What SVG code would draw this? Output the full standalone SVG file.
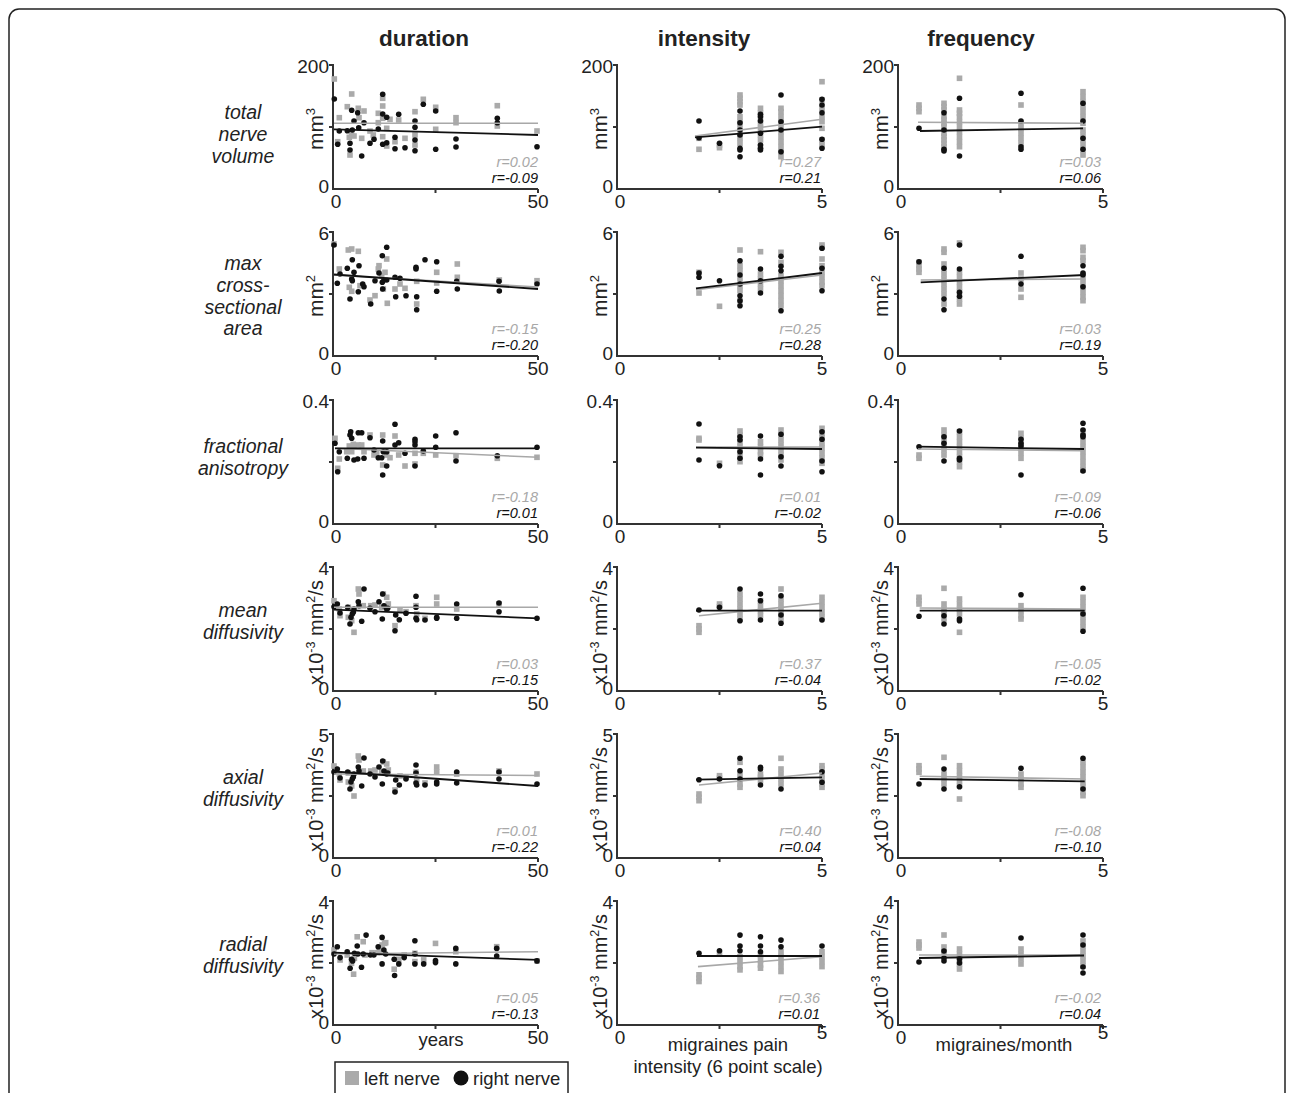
<svg xmlns="http://www.w3.org/2000/svg" xmlns:xlink="http://www.w3.org/1999/xlink" width="1292" height="1093" viewBox="0 0 1292 1093">
<style>
text{font-family:'Liberation Sans',Arial,Helvetica,sans-serif}
.ax{fill:none;stroke:#333;stroke-width:2}
.gl{stroke:#a8a8a8;stroke-width:1.6}
.bl{stroke:#111;stroke-width:1.8}
.te{font-size:19px;fill:#222;text-anchor:end}
.tm{font-size:19px;fill:#222;text-anchor:middle}
.rg{font-size:14.5px;font-style:italic;fill:#a8a8a8;text-anchor:end}
.rb{font-size:14.5px;font-style:italic;fill:#111;text-anchor:end}
.yl{font-size:21px;fill:#222;text-anchor:middle}
.yx{font-size:20px;fill:#222;text-anchor:middle}
.hd{font-size:22.5px;font-weight:bold;fill:#222;text-anchor:middle}
.rl{font-size:19.5px;font-style:italic;fill:#222;text-anchor:middle}
.xl{font-size:18.5px;fill:#222;text-anchor:middle}
.lg{font-size:18.5px;fill:#222}
</style>
<defs>
<rect id="s" x="-2.8" y="-2.8" width="5.6" height="5.6" fill="#aaaaaa"/>
<circle id="d" r="2.8" fill="#111"/>
<path id="ax" class="ax" d="M-4,0H0V124H205M-4,62H0M102.5,124V128M205,124V128"/>
</defs>
<rect id="frame" x="9" y="9" width="1276" height="1120" rx="10" fill="none" stroke="#222" stroke-width="1.5"/>

<g id="headers">
<text class="hd" x="424" y="46">duration</text>
<text class="hd" x="704" y="46">intensity</text>
<text class="hd" x="981" y="46">frequency</text>
</g>

<g id="rowlabels">
<text class="rl" x="243" y="119">total</text><text class="rl" x="243" y="141">nerve</text><text class="rl" x="243" y="163">volume</text>
<text class="rl" x="243" y="270">max</text><text class="rl" x="243" y="292">cross-</text><text class="rl" x="243" y="313.5">sectional</text><text class="rl" x="243" y="335">area</text>
<text class="rl" x="243" y="453">fractional</text><text class="rl" x="243" y="475">anisotropy</text>
<text class="rl" x="243" y="617">mean</text><text class="rl" x="243" y="639">diffusivity</text>
<text class="rl" x="243" y="784">axial</text><text class="rl" x="243" y="806">diffusivity</text>
<text class="rl" x="243" y="951">radial</text><text class="rl" x="243" y="973">diffusivity</text>
</g>

<!-- Row 1 -->
<g id="r1c1" transform="translate(333,65)">
<use href="#ax"/>
<text class="te" x="-4" y="8">200</text><text class="te" x="-4" y="128">0</text><text class="tm" x="3" y="143">0</text><text class="tm" x="205" y="143">50</text>
<text class="yl" transform="translate(-10,64) rotate(-90)">mm<tspan dy="-8" font-size="13">3</tspan></text>
<g class="lp">
<use href="#s" x="1.3" y="14"/><use href="#s" x="6.3" y="52.7"/><use href="#s" x="4.7" y="76.7"/><use href="#s" x="14.3" y="41.7"/><use href="#s" x="18.7" y="29"/><use href="#s" x="16.3" y="72.3"/><use href="#s" x="18.7" y="70"/><use href="#s" x="17" y="90"/><use href="#s" x="21" y="71"/><use href="#s" x="25.3" y="43.3"/><use href="#s" x="26" y="52.7"/><use href="#s" x="28.7" y="73.3"/><use href="#s" x="31" y="46"/><use href="#s" x="37" y="66"/><use href="#s" x="40.3" y="70"/><use href="#s" x="45.3" y="48.3"/><use href="#s" x="49.7" y="33.3"/><use href="#s" x="49.7" y="41"/><use href="#s" x="49.7" y="53.3"/><use href="#s" x="49.7" y="71.7"/><use href="#s" x="53.7" y="81"/><use href="#s" x="57" y="54.3"/><use href="#s" x="62" y="76.7"/><use href="#s" x="65.7" y="55"/><use href="#s" x="72" y="73.3"/><use href="#s" x="82" y="46.7"/><use href="#s" x="82" y="70"/><use href="#s" x="82" y="80"/><use href="#s" x="90.3" y="34.3"/><use href="#s" x="102.7" y="42.3"/><use href="#s" x="102.7" y="64.3"/><use href="#s" x="123" y="52.7"/><use href="#s" x="123" y="57.7"/><use href="#s" x="164.3" y="40.7"/><use href="#s" x="164.3" y="61"/><use href="#s" x="204" y="66"/><use href="#s" x="45.3" y="57.7"/><use href="#s" x="53.7" y="63.3"/>
</g>
<g class="rp">
<use href="#d" x="1.3" y="34"/><use href="#d" x="4.7" y="79.3"/><use href="#d" x="6.3" y="66"/><use href="#d" x="14.3" y="65.7"/><use href="#d" x="17" y="78.3"/><use href="#d" x="17" y="85"/><use href="#d" x="18.7" y="45.3"/><use href="#d" x="19.3" y="65"/><use href="#d" x="21" y="56"/><use href="#d" x="24.7" y="47.7"/><use href="#d" x="25.7" y="62.7"/><use href="#d" x="28.7" y="91"/><use href="#d" x="31" y="57.7"/><use href="#d" x="37" y="78.3"/><use href="#d" x="41" y="74.3"/><use href="#d" x="45.3" y="64"/><use href="#d" x="49.7" y="29.3"/><use href="#d" x="49.7" y="49"/><use href="#d" x="49.7" y="79.3"/><use href="#d" x="53.7" y="52.3"/><use href="#d" x="53.7" y="77.7"/><use href="#d" x="62" y="72.3"/><use href="#d" x="62" y="83.7"/><use href="#d" x="65.7" y="49.3"/><use href="#d" x="72" y="82.7"/><use href="#d" x="82" y="56"/><use href="#d" x="82" y="62.3"/><use href="#d" x="82" y="75"/><use href="#d" x="82" y="85.7"/><use href="#d" x="90.3" y="39.3"/><use href="#d" x="102.7" y="46"/><use href="#d" x="102.7" y="84.3"/><use href="#d" x="123" y="74"/><use href="#d" x="123" y="82"/><use href="#d" x="164.3" y="53.3"/><use href="#d" x="164.3" y="57.7"/><use href="#d" x="204" y="81.7"/>
</g>
<line class="gl" x1="1" y1="58.3" x2="205" y2="58.3"/><line class="bl" x1="1" y1="64.3" x2="205" y2="70"/>
<text class="rg" x="205" y="101.5">r=0.02</text><text class="rb" x="205" y="118">r=-0.09</text>
</g>

<g id="r1c2" transform="translate(617,65)">
<use href="#ax"/>
<text class="te" x="-4" y="8">200</text><text class="te" x="-4" y="128">0</text><text class="tm" x="3" y="143">0</text><text class="tm" x="205" y="143">5</text>
<text class="yl" transform="translate(-10,64) rotate(-90)">mm<tspan dy="-8" font-size="13">3</tspan></text>
<g class="lp">
<use href="#s" x="82" y="73.3"/><use href="#s" x="82" y="84.3"/><use href="#s" x="102.5" y="80"/><use href="#s" x="102.5" y="82.7"/>
<use href="#s" x="123" y="30"/><use href="#s" x="123" y="33.3"/><use href="#s" x="123" y="36.7"/><use href="#s" x="123" y="40"/><use href="#s" x="123" y="51.7"/><use href="#s" x="123" y="56.7"/><use href="#s" x="123" y="61.7"/><use href="#s" x="123" y="68.3"/><use href="#s" x="123" y="73.3"/><use href="#s" x="123" y="78.3"/>
<use href="#s" x="143.5" y="43.3"/><use href="#s" x="143.5" y="48.3"/><use href="#s" x="143.5" y="53.3"/><use href="#s" x="143.5" y="58.3"/><use href="#s" x="143.5" y="63.3"/><use href="#s" x="143.5" y="70"/><use href="#s" x="143.5" y="75"/><use href="#s" x="143.5" y="81.7"/>
<use href="#s" x="164" y="43.3"/><use href="#s" x="164" y="46.7"/><use href="#s" x="164" y="51.7"/><use href="#s" x="164" y="56.7"/><use href="#s" x="164" y="61.7"/><use href="#s" x="164" y="66.7"/><use href="#s" x="164" y="71.7"/><use href="#s" x="164" y="76.7"/><use href="#s" x="164" y="81.7"/><use href="#s" x="164" y="86.7"/><use href="#s" x="164" y="91.7"/>
<use href="#s" x="205" y="16.7"/><use href="#s" x="205" y="35"/><use href="#s" x="205" y="43.3"/><use href="#s" x="205" y="51.7"/><use href="#s" x="205" y="56.7"/><use href="#s" x="205" y="63.3"/><use href="#s" x="205" y="75"/><use href="#s" x="205" y="80"/>
</g>
<g class="rp">
<use href="#d" x="82" y="56"/><use href="#d" x="82" y="72.7"/><use href="#d" x="102.5" y="78.3"/>
<use href="#d" x="123" y="46"/><use href="#d" x="123" y="57.7"/><use href="#d" x="123" y="65"/><use href="#d" x="123" y="70"/><use href="#d" x="123" y="83.3"/><use href="#d" x="123" y="85"/><use href="#d" x="123" y="91.7"/>
<use href="#d" x="143.5" y="49.3"/><use href="#d" x="143.5" y="51.7"/><use href="#d" x="143.5" y="56"/><use href="#d" x="143.5" y="68.3"/><use href="#d" x="143.5" y="80"/><use href="#d" x="143.5" y="83.3"/><use href="#d" x="143.5" y="85"/>
<use href="#d" x="164" y="30"/><use href="#d" x="164" y="56.7"/><use href="#d" x="164" y="65"/><use href="#d" x="164" y="86.7"/>
<use href="#d" x="205" y="34.3"/><use href="#d" x="205" y="40"/><use href="#d" x="205" y="47.7"/><use href="#d" x="205" y="74.3"/><use href="#d" x="205" y="83.3"/>
</g>
<line class="gl" x1="78" y1="71" x2="205" y2="54.3"/><line class="bl" x1="78" y1="72.3" x2="205" y2="61.7"/>
<text class="rg" x="204" y="101.5">r=0.27</text><text class="rb" x="204" y="118">r=0.21</text>
</g>

<g id="r1c3" transform="translate(898,65)">
<use href="#ax"/>
<text class="te" x="-4" y="8">200</text><text class="te" x="-4" y="128">0</text><text class="tm" x="3" y="143">0</text><text class="tm" x="205" y="143">5</text>
<text class="yl" transform="translate(-10,64) rotate(-90)">mm<tspan dy="-8" font-size="13">3</tspan></text>
<g class="lp">
<use href="#s" x="21" y="40"/><use href="#s" x="21" y="43.3"/><use href="#s" x="21" y="46.7"/>
<use href="#s" x="46" y="38.3"/><use href="#s" x="46" y="41.7"/><use href="#s" x="46" y="45"/><use href="#s" x="46" y="51.7"/><use href="#s" x="46" y="55"/><use href="#s" x="46" y="58.3"/><use href="#s" x="46" y="61.7"/><use href="#s" x="46" y="68.3"/><use href="#s" x="46" y="71.7"/><use href="#s" x="46" y="75"/><use href="#s" x="46" y="78.3"/><use href="#s" x="46" y="81.7"/>
<use href="#s" x="61.5" y="13.3"/><use href="#s" x="61.5" y="45"/><use href="#s" x="61.5" y="48.3"/><use href="#s" x="61.5" y="51.7"/><use href="#s" x="61.5" y="56.7"/><use href="#s" x="61.5" y="61.7"/><use href="#s" x="61.5" y="66.7"/><use href="#s" x="61.5" y="71.7"/><use href="#s" x="61.5" y="76.7"/><use href="#s" x="61.5" y="81.7"/>
<use href="#s" x="123" y="40"/><use href="#s" x="123" y="58.3"/><use href="#s" x="123" y="63.3"/><use href="#s" x="123" y="68.3"/><use href="#s" x="123" y="73.3"/><use href="#s" x="123" y="78.3"/>
<use href="#s" x="185" y="26.7"/><use href="#s" x="185" y="31.7"/><use href="#s" x="185" y="36.7"/><use href="#s" x="185" y="41.7"/><use href="#s" x="185" y="46.7"/><use href="#s" x="185" y="51.7"/><use href="#s" x="185" y="58.3"/><use href="#s" x="185" y="65"/><use href="#s" x="185" y="70"/><use href="#s" x="185" y="75"/><use href="#s" x="185" y="80"/><use href="#s" x="185" y="85"/><use href="#s" x="185" y="90"/>
</g>
<g class="rp">
<use href="#d" x="21" y="63.3"/><use href="#d" x="46" y="47.7"/><use href="#d" x="46" y="65"/><use href="#d" x="46" y="84.3"/><use href="#d" x="46" y="86"/><use href="#d" x="61.5" y="33.3"/><use href="#d" x="61.5" y="91"/><use href="#d" x="123" y="28.3"/><use href="#d" x="123" y="56"/><use href="#d" x="123" y="81.7"/><use href="#d" x="123" y="84.3"/><use href="#d" x="185" y="38.3"/><use href="#d" x="185" y="56"/><use href="#d" x="185" y="73.3"/><use href="#d" x="185" y="84.3"/>
</g>
<line class="gl" x1="20" y1="57.3" x2="185" y2="58.3"/><line class="bl" x1="22" y1="66" x2="185" y2="63.3"/>
<text class="rg" x="203" y="101.5">r=0.03</text><text class="rb" x="203" y="118">r=0.06</text>
</g>

<!-- Row 2 -->
<g id="r2c1" transform="translate(333,232)">
<use href="#ax"/>
<text class="te" x="-4" y="8">6</text><text class="te" x="-4" y="128">0</text><text class="tm" x="3" y="143">0</text><text class="tm" x="205" y="143">50</text>
<text class="yl" transform="translate(-10,64) rotate(-90)">mm<tspan dy="-8" font-size="13">2</tspan></text>
<g class="lp">
<use href="#s" x="1" y="12"/><use href="#s" x="6.3" y="37"/><use href="#s" x="15.3" y="18"/><use href="#s" x="18.7" y="17"/><use href="#s" x="25.3" y="19.3"/><use href="#s" x="16.3" y="55.3"/><use href="#s" x="18.7" y="59.3"/><use href="#s" x="27" y="53.7"/><use href="#s" x="37" y="68"/><use href="#s" x="42" y="63.7"/><use href="#s" x="46" y="33.7"/><use href="#s" x="48.7" y="43.7"/><use href="#s" x="50.3" y="57"/><use href="#s" x="53.7" y="27"/><use href="#s" x="54.3" y="71.3"/><use href="#s" x="62" y="57"/><use href="#s" x="67" y="52"/><use href="#s" x="72" y="56.3"/><use href="#s" x="83.7" y="49.3"/><use href="#s" x="83.7" y="72"/><use href="#s" x="103.7" y="40.3"/><use href="#s" x="103.7" y="51"/><use href="#s" x="124.3" y="32"/><use href="#s" x="124.3" y="45.3"/><use href="#s" x="166.3" y="48"/><use href="#s" x="204" y="48.7"/><use href="#s" x="45.3" y="37"/><use href="#s" x="52" y="40.3"/>
</g>
<g class="rp">
<use href="#d" x="1" y="13"/><use href="#d" x="4.3" y="51.3"/><use href="#d" x="7" y="42"/><use href="#d" x="14.3" y="36.3"/><use href="#d" x="17" y="67"/><use href="#d" x="18.7" y="47"/><use href="#d" x="19.3" y="27.7"/><use href="#d" x="19.3" y="48.7"/><use href="#d" x="21" y="40.3"/><use href="#d" x="25.3" y="59.7"/><use href="#d" x="26" y="33.7"/><use href="#d" x="29.7" y="52"/><use href="#d" x="31" y="54.7"/><use href="#d" x="37.7" y="72"/><use href="#d" x="42" y="48.7"/><use href="#d" x="46" y="41"/><use href="#d" x="49.3" y="23.7"/><use href="#d" x="49.3" y="50.3"/><use href="#d" x="49.7" y="57"/><use href="#d" x="51" y="47.7"/><use href="#d" x="53.7" y="15.3"/><use href="#d" x="53.7" y="48"/><use href="#d" x="62" y="45.3"/><use href="#d" x="62.7" y="64.7"/><use href="#d" x="67" y="46.3"/><use href="#d" x="73" y="63.7"/><use href="#d" x="83" y="35.3"/><use href="#d" x="83" y="37"/><use href="#d" x="83.7" y="64.7"/><use href="#d" x="83.7" y="77.7"/><use href="#d" x="92" y="27.7"/><use href="#d" x="103.7" y="29.7"/><use href="#d" x="103.7" y="59.3"/><use href="#d" x="123.7" y="49.3"/><use href="#d" x="124.3" y="57"/><use href="#d" x="166" y="49.3"/><use href="#d" x="166.3" y="59"/><use href="#d" x="204" y="52"/>
</g>
<line class="gl" x1="1" y1="43" x2="205" y2="55"/><line class="bl" x1="1" y1="42.5" x2="205" y2="57"/>
<text class="rg" x="205" y="101.5">r=-0.15</text><text class="rb" x="205" y="118">r=-0.20</text>
</g>

<g id="r2c2" transform="translate(617,232)">
<use href="#ax"/>
<text class="te" x="-4" y="8">6</text><text class="te" x="-4" y="128">0</text><text class="tm" x="3" y="143">0</text><text class="tm" x="205" y="143">5</text>
<text class="yl" transform="translate(-10,64) rotate(-90)">mm<tspan dy="-8" font-size="13">2</tspan></text>
<g class="lp">
<use href="#s" x="82" y="40.3"/><use href="#s" x="82" y="61"/><use href="#s" x="102.5" y="74.3"/>
<use href="#s" x="123" y="18"/><use href="#s" x="123" y="33.7"/><use href="#s" x="123" y="38.7"/><use href="#s" x="123" y="47"/><use href="#s" x="123" y="53.7"/><use href="#s" x="123" y="58.7"/><use href="#s" x="123" y="68.7"/>
<use href="#s" x="143.5" y="19.7"/><use href="#s" x="143.5" y="42"/><use href="#s" x="143.5" y="47"/><use href="#s" x="143.5" y="52"/><use href="#s" x="143.5" y="57"/>
<use href="#s" x="164" y="20.3"/><use href="#s" x="164" y="30.3"/><use href="#s" x="164" y="43.7"/><use href="#s" x="164" y="48.7"/><use href="#s" x="164" y="53.7"/><use href="#s" x="164" y="58.7"/><use href="#s" x="164" y="63.7"/><use href="#s" x="164" y="68.7"/><use href="#s" x="164" y="73.7"/>
<use href="#s" x="205" y="13"/><use href="#s" x="205" y="15.3"/><use href="#s" x="205" y="27"/><use href="#s" x="205" y="33.7"/><use href="#s" x="205" y="40.3"/><use href="#s" x="205" y="45.3"/><use href="#s" x="205" y="50.3"/><use href="#s" x="205" y="53.7"/>
</g>
<g class="rp">
<use href="#d" x="82" y="41"/><use href="#d" x="82" y="45.3"/><use href="#d" x="102.5" y="48.7"/>
<use href="#d" x="123" y="28.7"/><use href="#d" x="123" y="43"/><use href="#d" x="123" y="52"/><use href="#d" x="123" y="63.7"/><use href="#d" x="123" y="68.7"/><use href="#d" x="123" y="73.7"/>
<use href="#d" x="143.5" y="37"/><use href="#d" x="143.5" y="48.7"/><use href="#d" x="143.5" y="61"/>
<use href="#d" x="164" y="24.3"/><use href="#d" x="164" y="34.3"/><use href="#d" x="164" y="38.7"/><use href="#d" x="164" y="78.7"/>
<use href="#d" x="205" y="16.3"/><use href="#d" x="205" y="36.3"/><use href="#d" x="205" y="58.7"/>
</g>
<line class="gl" x1="79" y1="57.7" x2="205" y2="43"/><line class="bl" x1="79" y1="56.3" x2="205" y2="41"/>
<text class="rg" x="204" y="101.5">r=0.25</text><text class="rb" x="204" y="118">r=0.28</text>
</g>

<g id="r2c3" transform="translate(898,232)">
<use href="#ax"/>
<text class="te" x="-4" y="8">6</text><text class="te" x="-4" y="128">0</text><text class="tm" x="3" y="143">0</text><text class="tm" x="205" y="143">5</text>
<text class="yl" transform="translate(-10,64) rotate(-90)">mm<tspan dy="-8" font-size="13">2</tspan></text>
<g class="lp">
<use href="#s" x="21" y="30.3"/><use href="#s" x="21" y="33.7"/><use href="#s" x="21" y="37"/><use href="#s" x="21" y="40.3"/>
<use href="#s" x="46" y="17"/><use href="#s" x="46" y="20.3"/><use href="#s" x="46" y="32"/><use href="#s" x="46" y="37"/><use href="#s" x="46" y="42"/><use href="#s" x="46" y="47"/><use href="#s" x="46" y="52"/><use href="#s" x="46" y="57"/><use href="#s" x="46" y="62"/><use href="#s" x="46" y="72"/>
<use href="#s" x="61.5" y="11"/><use href="#s" x="61.5" y="40.3"/><use href="#s" x="61.5" y="45.3"/><use href="#s" x="61.5" y="50.3"/><use href="#s" x="61.5" y="55.3"/><use href="#s" x="61.5" y="60.3"/><use href="#s" x="61.5" y="67"/><use href="#s" x="61.5" y="72"/>
<use href="#s" x="123" y="41"/><use href="#s" x="123" y="47"/><use href="#s" x="123" y="57"/><use href="#s" x="123" y="65.3"/>
<use href="#s" x="185" y="15.3"/><use href="#s" x="185" y="18.7"/><use href="#s" x="185" y="25.3"/><use href="#s" x="185" y="28.7"/><use href="#s" x="185" y="45.3"/><use href="#s" x="185" y="50.3"/><use href="#s" x="185" y="55.3"/><use href="#s" x="185" y="60.3"/><use href="#s" x="185" y="65.3"/><use href="#s" x="185" y="68.7"/>
</g>
<g class="rp">
<use href="#d" x="21" y="29.7"/><use href="#d" x="46" y="36.3"/><use href="#d" x="46" y="67"/><use href="#d" x="46" y="77.7"/><use href="#d" x="61.5" y="13"/><use href="#d" x="61.5" y="37"/><use href="#d" x="61.5" y="60.3"/><use href="#d" x="61.5" y="64.3"/><use href="#d" x="123" y="24.3"/><use href="#d" x="123" y="52"/><use href="#d" x="185" y="33.7"/><use href="#d" x="185" y="41"/><use href="#d" x="185" y="42.7"/><use href="#d" x="185" y="54.7"/>
</g>
<line class="gl" x1="22.7" y1="48" x2="186.7" y2="47"/><line class="bl" x1="22.7" y1="50.3" x2="186.7" y2="43"/>
<text class="rg" x="203" y="101.5">r=0.03</text><text class="rb" x="203" y="118">r=0.19</text>
</g>

<!-- Row 3 -->
<g id="r3c1" transform="translate(333,400)">
<use href="#ax"/>
<text class="te" x="-4" y="8">0.4</text><text class="te" x="-4" y="128">0</text><text class="tm" x="3" y="143">0</text><text class="tm" x="205" y="143">50</text>
<g class="lp">
<use href="#s" x="2" y="38.3"/><use href="#s" x="6.3" y="59"/><use href="#s" x="4.7" y="68.3"/><use href="#s" x="16.3" y="46"/><use href="#s" x="18.7" y="51.7"/><use href="#s" x="21" y="46"/><use href="#s" x="25.3" y="45"/><use href="#s" x="28.7" y="45"/><use href="#s" x="31" y="51.7"/><use href="#s" x="37" y="35"/><use href="#s" x="41" y="55"/><use href="#s" x="49.7" y="35"/><use href="#s" x="49.7" y="65"/><use href="#s" x="53.7" y="55"/><use href="#s" x="62" y="36"/><use href="#s" x="65.7" y="55"/><use href="#s" x="72" y="66"/><use href="#s" x="82" y="53.3"/><use href="#s" x="82" y="64"/><use href="#s" x="90.3" y="53.3"/><use href="#s" x="102.7" y="55"/><use href="#s" x="123" y="55.7"/><use href="#s" x="164.3" y="58.3"/><use href="#s" x="204" y="57.3"/><use href="#s" x="43.7" y="53.3"/><use href="#s" x="57" y="57.7"/><use href="#s" x="13.7" y="51.7"/><use href="#s" x="20.3" y="44.3"/>
</g>
<g class="rp">
<use href="#d" x="2" y="43.3"/><use href="#d" x="4.7" y="71.7"/><use href="#d" x="6.3" y="51.7"/><use href="#d" x="14.3" y="58.3"/><use href="#d" x="17" y="35"/><use href="#d" x="17.7" y="31.7"/><use href="#d" x="18.7" y="38.3"/><use href="#d" x="21" y="60"/><use href="#d" x="24.7" y="59"/><use href="#d" x="25.3" y="32.7"/><use href="#d" x="28.7" y="32.7"/><use href="#d" x="31" y="58.3"/><use href="#d" x="37" y="37.7"/><use href="#d" x="41" y="50"/><use href="#d" x="45.3" y="57.7"/><use href="#d" x="48.7" y="57.7"/><use href="#d" x="49.7" y="75"/><use href="#d" x="49.7" y="41"/><use href="#d" x="50.3" y="51.7"/><use href="#d" x="53.7" y="51.7"/><use href="#d" x="53.7" y="66"/><use href="#d" x="62" y="24.3"/><use href="#d" x="62" y="45"/><use href="#d" x="65.7" y="42.7"/><use href="#d" x="72" y="53.3"/><use href="#d" x="82" y="39.3"/><use href="#d" x="82" y="41.7"/><use href="#d" x="82" y="45"/><use href="#d" x="82" y="66"/><use href="#d" x="90.3" y="51"/><use href="#d" x="102.7" y="36"/><use href="#d" x="102.7" y="47.3"/><use href="#d" x="123" y="32.7"/><use href="#d" x="123" y="61"/><use href="#d" x="164.3" y="55.7"/><use href="#d" x="204" y="47.3"/>
</g>
<line class="gl" x1="2" y1="48.3" x2="205" y2="57.3"/><line class="bl" x1="2" y1="48.3" x2="205" y2="48.3"/>
<text class="rg" x="205" y="101.5">r=-0.18</text><text class="rb" x="205" y="118">r=0.01</text>
</g>

<g id="r3c2" transform="translate(617,400)">
<use href="#ax"/>
<text class="te" x="-4" y="8">0.4</text><text class="te" x="-4" y="128">0</text><text class="tm" x="3" y="143">0</text><text class="tm" x="205" y="143">5</text>
<g class="lp">
<use href="#s" x="82" y="38.3"/><use href="#s" x="82" y="40"/><use href="#s" x="102.5" y="63.3"/>
<use href="#s" x="123" y="31"/><use href="#s" x="123" y="35"/><use href="#s" x="123" y="41.7"/><use href="#s" x="123" y="46.7"/><use href="#s" x="123" y="51.7"/><use href="#s" x="123" y="56.7"/><use href="#s" x="123" y="61.7"/>
<use href="#s" x="143.5" y="41.7"/><use href="#s" x="143.5" y="46.7"/><use href="#s" x="143.5" y="51.7"/><use href="#s" x="143.5" y="55"/>
<use href="#s" x="164" y="30"/><use href="#s" x="164" y="35"/><use href="#s" x="164" y="40"/><use href="#s" x="164" y="45"/><use href="#s" x="164" y="50"/><use href="#s" x="164" y="55"/><use href="#s" x="164" y="60"/>
<use href="#s" x="205" y="28.3"/><use href="#s" x="205" y="33.3"/><use href="#s" x="205" y="38.3"/><use href="#s" x="205" y="43.3"/><use href="#s" x="205" y="48.3"/><use href="#s" x="205" y="53.3"/><use href="#s" x="205" y="58.3"/><use href="#s" x="205" y="63.3"/>
</g>
<g class="rp">
<use href="#d" x="82" y="24"/><use href="#d" x="82" y="60"/><use href="#d" x="102.5" y="65.7"/>
<use href="#d" x="123" y="36.7"/><use href="#d" x="123" y="40"/><use href="#d" x="123" y="51.7"/><use href="#d" x="123" y="58.3"/>
<use href="#d" x="143.5" y="36"/><use href="#d" x="143.5" y="59"/><use href="#d" x="143.5" y="75"/>
<use href="#d" x="164" y="34.3"/><use href="#d" x="164" y="56.7"/><use href="#d" x="164" y="66"/>
<use href="#d" x="205" y="31.7"/><use href="#d" x="205" y="39.3"/><use href="#d" x="205" y="61"/><use href="#d" x="205" y="71.7"/>
</g>
<line class="gl" x1="79" y1="47" x2="205" y2="47"/><line class="bl" x1="79" y1="47.7" x2="205" y2="49"/>
<text class="rg" x="204" y="101.5">r=0.01</text><text class="rb" x="204" y="118">r=-0.02</text>
</g>

<g id="r3c3" transform="translate(898,400)">
<use href="#ax"/>
<text class="te" x="-4" y="8">0.4</text><text class="te" x="-4" y="128">0</text><text class="tm" x="3" y="143">0</text><text class="tm" x="205" y="143">5</text>
<g class="lp">
<use href="#s" x="21" y="55"/><use href="#s" x="21" y="58.3"/>
<use href="#s" x="46" y="30"/><use href="#s" x="46" y="35"/><use href="#s" x="46" y="40"/><use href="#s" x="46" y="45"/><use href="#s" x="46" y="50"/><use href="#s" x="46" y="55"/>
<use href="#s" x="61.5" y="31.7"/><use href="#s" x="61.5" y="36.7"/><use href="#s" x="61.5" y="41.7"/><use href="#s" x="61.5" y="46.7"/><use href="#s" x="61.5" y="51.7"/><use href="#s" x="61.5" y="56.7"/><use href="#s" x="61.5" y="61.7"/><use href="#s" x="61.5" y="66.7"/>
<use href="#s" x="123" y="33.3"/><use href="#s" x="123" y="38.3"/><use href="#s" x="123" y="43.3"/><use href="#s" x="123" y="48.3"/><use href="#s" x="123" y="53.3"/><use href="#s" x="123" y="58.3"/>
<use href="#s" x="185" y="31.7"/><use href="#s" x="185" y="36.7"/><use href="#s" x="185" y="41.7"/><use href="#s" x="185" y="46.7"/><use href="#s" x="185" y="51.7"/><use href="#s" x="185" y="56.7"/><use href="#s" x="185" y="61.7"/><use href="#s" x="185" y="66.7"/><use href="#s" x="185" y="70"/>
</g>
<g class="rp">
<use href="#d" x="21" y="46.7"/><use href="#d" x="46" y="36.7"/><use href="#d" x="46" y="43.3"/><use href="#d" x="46" y="61"/><use href="#d" x="61.5" y="31"/><use href="#d" x="61.5" y="58.3"/><use href="#d" x="61.5" y="60"/><use href="#d" x="123" y="39.3"/><use href="#d" x="123" y="43.3"/><use href="#d" x="123" y="46"/><use href="#d" x="123" y="75"/><use href="#d" x="185" y="23.3"/><use href="#d" x="185" y="30"/><use href="#d" x="185" y="35"/><use href="#d" x="185" y="36.7"/><use href="#d" x="185" y="71"/>
</g>
<line class="gl" x1="20" y1="49" x2="186" y2="50.7"/><line class="bl" x1="20" y1="46.7" x2="186" y2="49"/>
<text class="rg" x="203" y="101.5">r=-0.09</text><text class="rb" x="203" y="118">r=-0.06</text>
</g>

<!-- Row 4 -->
<g id="r4c1" transform="translate(333,567)">
<use href="#ax"/>
<text class="te" x="-4" y="8">4</text><text class="te" x="-4" y="128">0</text><text class="tm" x="3" y="143">0</text><text class="tm" x="205" y="143">50</text>
<text class="yx" transform="translate(-10,65.5) rotate(-90)">x10<tspan dy="-8" font-size="12.5">-3</tspan><tspan dy="8"> mm</tspan><tspan dy="-8" font-size="12.5">2</tspan><tspan dy="8">/s</tspan></text>
<g class="lp">
<use href="#s" x="1" y="33.7"/><use href="#s" x="6.3" y="42"/><use href="#s" x="15.3" y="50.3"/><use href="#s" x="18.7" y="53.7"/><use href="#s" x="21" y="65.3"/><use href="#s" x="25.3" y="22"/><use href="#s" x="26" y="27"/><use href="#s" x="30.3" y="38.7"/><use href="#s" x="37.7" y="38.7"/><use href="#s" x="42" y="38"/><use href="#s" x="48.7" y="40.3"/><use href="#s" x="50.3" y="27"/><use href="#s" x="53.7" y="30.3"/><use href="#s" x="55.3" y="37"/><use href="#s" x="62" y="58.7"/><use href="#s" x="67" y="43.7"/><use href="#s" x="73" y="44.7"/><use href="#s" x="83" y="38.7"/><use href="#s" x="83.7" y="47"/><use href="#s" x="92" y="51.3"/><use href="#s" x="103.7" y="30.3"/><use href="#s" x="103.7" y="37"/><use href="#s" x="123.7" y="42"/><use href="#s" x="166" y="37"/><use href="#s" x="7" y="48.7"/><use href="#s" x="15.3" y="40.3"/>
</g>
<g class="rp">
<use href="#d" x="1" y="39.7"/><use href="#d" x="4.3" y="37"/><use href="#d" x="7" y="46"/><use href="#d" x="14.7" y="40.3"/><use href="#d" x="17" y="57"/><use href="#d" x="18" y="50.3"/><use href="#d" x="19.3" y="47"/><use href="#d" x="20.3" y="45.3"/><use href="#d" x="21" y="42"/><use href="#d" x="25.3" y="34.7"/><use href="#d" x="26" y="38.7"/><use href="#d" x="28.7" y="54.3"/><use href="#d" x="31" y="22"/><use href="#d" x="37" y="41.3"/><use href="#d" x="42" y="44.7"/><use href="#d" x="46" y="34.7"/><use href="#d" x="49.3" y="52"/><use href="#d" x="49.7" y="27"/><use href="#d" x="51" y="38.7"/><use href="#d" x="53.7" y="42"/><use href="#d" x="54.7" y="41.3"/><use href="#d" x="62" y="63.7"/><use href="#d" x="62.7" y="48"/><use href="#d" x="66.3" y="52.7"/><use href="#d" x="73" y="46.3"/><use href="#d" x="83" y="29.3"/><use href="#d" x="83" y="40.3"/><use href="#d" x="83" y="51.3"/><use href="#d" x="83.7" y="52.7"/><use href="#d" x="92" y="53"/><use href="#d" x="103.7" y="50.3"/><use href="#d" x="103.7" y="51.3"/><use href="#d" x="123.7" y="37"/><use href="#d" x="123.7" y="51.3"/><use href="#d" x="166" y="36"/><use href="#d" x="166" y="44.7"/><use href="#d" x="204" y="51.3"/>
</g>
<line class="gl" x1="1" y1="40.3" x2="205" y2="40.3"/><line class="bl" x1="1" y1="42.7" x2="205" y2="51.3"/>
<text class="rg" x="205" y="101.5">r=0.03</text><text class="rb" x="205" y="118">r=-0.15</text>
</g>

<g id="r4c2" transform="translate(617,567)">
<use href="#ax"/>
<text class="te" x="-4" y="8">4</text><text class="te" x="-4" y="128">0</text><text class="tm" x="3" y="143">0</text><text class="tm" x="205" y="143">5</text>
<text class="yx" transform="translate(-10,65.5) rotate(-90)">x10<tspan dy="-8" font-size="12.5">-3</tspan><tspan dy="8"> mm</tspan><tspan dy="-8" font-size="12.5">2</tspan><tspan dy="8">/s</tspan></text>
<g class="lp">
<use href="#s" x="82" y="58.7"/><use href="#s" x="82" y="62"/><use href="#s" x="82" y="65.3"/><use href="#s" x="102.5" y="37"/><use href="#s" x="102.5" y="39.7"/>
<use href="#s" x="123" y="27"/><use href="#s" x="123" y="32"/><use href="#s" x="123" y="37"/><use href="#s" x="123" y="42"/><use href="#s" x="123" y="47"/><use href="#s" x="123" y="52"/>
<use href="#s" x="143.5" y="33.7"/><use href="#s" x="143.5" y="38.7"/><use href="#s" x="143.5" y="43.7"/><use href="#s" x="143.5" y="48.7"/>
<use href="#s" x="164" y="22"/><use href="#s" x="164" y="32"/><use href="#s" x="164" y="37"/><use href="#s" x="164" y="42"/><use href="#s" x="164" y="47"/><use href="#s" x="164" y="52"/>
<use href="#s" x="205" y="30.3"/><use href="#s" x="205" y="35.3"/><use href="#s" x="205" y="40.3"/><use href="#s" x="205" y="45.3"/><use href="#s" x="205" y="50.3"/>
</g>
<g class="rp">
<use href="#d" x="82" y="43"/><use href="#d" x="102.5" y="40.3"/><use href="#d" x="123" y="22"/><use href="#d" x="123" y="53.7"/><use href="#d" x="143.5" y="27"/><use href="#d" x="143.5" y="33.7"/><use href="#d" x="143.5" y="53"/><use href="#d" x="164" y="28.7"/><use href="#d" x="164" y="48"/><use href="#d" x="164" y="56.3"/><use href="#d" x="205" y="53"/>
</g>
<line class="gl" x1="82" y1="48.7" x2="205" y2="36.3"/><line class="bl" x1="79" y1="43.7" x2="205" y2="43.7"/>
<text class="rg" x="204" y="101.5">r=0.37</text><text class="rb" x="204" y="118">r=-0.04</text>
</g>

<g id="r4c3" transform="translate(898,567)">
<use href="#ax"/>
<text class="te" x="-4" y="8">4</text><text class="te" x="-4" y="128">0</text><text class="tm" x="3" y="143">0</text><text class="tm" x="205" y="143">5</text>
<text class="yx" transform="translate(-10,65.5) rotate(-90)">x10<tspan dy="-8" font-size="12.5">-3</tspan><tspan dy="8"> mm</tspan><tspan dy="-8" font-size="12.5">2</tspan><tspan dy="8">/s</tspan></text>
<g class="lp">
<use href="#s" x="21" y="30.3"/><use href="#s" x="21" y="33.7"/><use href="#s" x="21" y="37"/>
<use href="#s" x="46" y="21.3"/><use href="#s" x="46" y="37"/><use href="#s" x="46" y="42"/><use href="#s" x="46" y="47"/><use href="#s" x="46" y="52"/>
<use href="#s" x="61.5" y="32"/><use href="#s" x="61.5" y="37"/><use href="#s" x="61.5" y="42"/><use href="#s" x="61.5" y="47"/><use href="#s" x="61.5" y="65.3"/>
<use href="#s" x="123" y="38.7"/><use href="#s" x="123" y="43.7"/><use href="#s" x="123" y="48.7"/><use href="#s" x="123" y="52"/>
<use href="#s" x="185" y="30.3"/><use href="#s" x="185" y="35.3"/><use href="#s" x="185" y="40.3"/><use href="#s" x="185" y="45.3"/><use href="#s" x="185" y="50.3"/><use href="#s" x="185" y="55.3"/><use href="#s" x="185" y="60.3"/>
</g>
<g class="rp">
<use href="#d" x="21" y="49.3"/><use href="#d" x="46" y="48.7"/><use href="#d" x="46" y="57"/><use href="#d" x="61.5" y="52"/><use href="#d" x="61.5" y="53.7"/><use href="#d" x="123" y="27.7"/><use href="#d" x="185" y="21.3"/><use href="#d" x="185" y="47"/><use href="#d" x="185" y="64.3"/>
</g>
<line class="gl" x1="21.7" y1="41" x2="186.7" y2="42"/><line class="bl" x1="21.7" y1="43.7" x2="186.7" y2="43.7"/>
<text class="rg" x="203" y="101.5">r=-0.05</text><text class="rb" x="203" y="118">r=-0.02</text>
</g>

<!-- Row 5 -->
<g id="r5c1" transform="translate(333,734)">
<use href="#ax"/>
<text class="te" x="-4" y="8">5</text><text class="te" x="-4" y="128">0</text><text class="tm" x="3" y="143">0</text><text class="tm" x="205" y="143">50</text>
<text class="yx" transform="translate(-10,65.5) rotate(-90)">x10<tspan dy="-8" font-size="12.5">-3</tspan><tspan dy="8"> mm</tspan><tspan dy="-8" font-size="12.5">2</tspan><tspan dy="8">/s</tspan></text>
<g class="lp">
<use href="#s" x="1" y="32"/><use href="#s" x="6.3" y="40"/><use href="#s" x="15.3" y="48"/><use href="#s" x="18.7" y="52"/><use href="#s" x="21" y="62"/><use href="#s" x="25.3" y="22"/><use href="#s" x="26" y="26"/><use href="#s" x="30.3" y="37"/><use href="#s" x="37.7" y="37"/><use href="#s" x="42" y="36"/><use href="#s" x="48.7" y="38"/><use href="#s" x="50.3" y="28"/><use href="#s" x="53.7" y="30"/><use href="#s" x="55.3" y="36"/><use href="#s" x="62" y="56"/><use href="#s" x="67" y="42"/><use href="#s" x="73" y="43"/><use href="#s" x="83" y="38"/><use href="#s" x="83.7" y="46"/><use href="#s" x="92" y="49"/><use href="#s" x="103.7" y="33"/><use href="#s" x="103.7" y="38"/><use href="#s" x="123.7" y="40"/><use href="#s" x="166" y="37"/><use href="#s" x="7" y="46"/><use href="#s" x="15.3" y="39"/><use href="#s" x="204" y="40"/>
</g>
<g class="rp">
<use href="#d" x="1" y="38"/><use href="#d" x="4.3" y="35"/><use href="#d" x="7" y="44"/><use href="#d" x="14.7" y="38"/><use href="#d" x="17" y="55"/><use href="#d" x="18" y="48"/><use href="#d" x="19.3" y="45"/><use href="#d" x="20.3" y="43"/><use href="#d" x="21" y="40"/><use href="#d" x="25.3" y="33"/><use href="#d" x="26" y="37"/><use href="#d" x="28.7" y="52"/><use href="#d" x="31" y="24"/><use href="#d" x="37" y="40"/><use href="#d" x="42" y="43"/><use href="#d" x="46" y="33"/><use href="#d" x="49.3" y="50"/><use href="#d" x="49.7" y="27"/><use href="#d" x="51" y="37"/><use href="#d" x="53.7" y="40"/><use href="#d" x="54.7" y="39"/><use href="#d" x="62" y="58"/><use href="#d" x="62.7" y="46"/><use href="#d" x="66.3" y="51"/><use href="#d" x="73" y="45"/><use href="#d" x="83" y="31"/><use href="#d" x="83" y="39"/><use href="#d" x="83" y="49"/><use href="#d" x="83.7" y="51"/><use href="#d" x="92" y="51"/><use href="#d" x="103.7" y="48"/><use href="#d" x="103.7" y="50"/><use href="#d" x="123.7" y="38"/><use href="#d" x="123.7" y="49"/><use href="#d" x="166" y="38"/><use href="#d" x="166" y="45"/><use href="#d" x="204" y="50"/>
</g>
<line class="gl" x1="1" y1="40" x2="205" y2="41.5"/><line class="bl" x1="1" y1="37.5" x2="205" y2="52"/>
<text class="rg" x="205" y="101.5">r=0.01</text><text class="rb" x="205" y="118">r=-0.22</text>
</g>

<g id="r5c2" transform="translate(617,734)">
<use href="#ax"/>
<text class="te" x="-4" y="8">5</text><text class="te" x="-4" y="128">0</text><text class="tm" x="3" y="143">0</text><text class="tm" x="205" y="143">5</text>
<text class="yx" transform="translate(-10,65.5) rotate(-90)">x10<tspan dy="-8" font-size="12.5">-3</tspan><tspan dy="8"> mm</tspan><tspan dy="-8" font-size="12.5">2</tspan><tspan dy="8">/s</tspan></text>
<g class="lp">
<use href="#s" x="82" y="60"/><use href="#s" x="82" y="63.3"/><use href="#s" x="82" y="66.7"/><use href="#s" x="102.5" y="41.7"/><use href="#s" x="102.5" y="44.3"/>
<use href="#s" x="123" y="28.3"/><use href="#s" x="123" y="40"/><use href="#s" x="123" y="45"/><use href="#s" x="123" y="50"/><use href="#s" x="123" y="53.3"/>
<use href="#s" x="143.5" y="40"/><use href="#s" x="143.5" y="43.3"/><use href="#s" x="143.5" y="46.7"/>
<use href="#s" x="164" y="24.3"/><use href="#s" x="164" y="35"/><use href="#s" x="164" y="40"/><use href="#s" x="164" y="45"/><use href="#s" x="164" y="50"/>
<use href="#s" x="205" y="31.7"/><use href="#s" x="205" y="35"/><use href="#s" x="205" y="40"/><use href="#s" x="205" y="45"/><use href="#s" x="205" y="50"/><use href="#s" x="205" y="53.3"/>
</g>
<g class="rp">
<use href="#d" x="82" y="45.7"/><use href="#d" x="102.5" y="45"/><use href="#d" x="123" y="24.3"/><use href="#d" x="123" y="36.7"/><use href="#d" x="123" y="45"/><use href="#d" x="143.5" y="33.3"/><use href="#d" x="143.5" y="35"/><use href="#d" x="143.5" y="51"/><use href="#d" x="164" y="55"/><use href="#d" x="205" y="37.7"/><use href="#d" x="205" y="48.3"/>
</g>
<line class="gl" x1="82" y1="51" x2="205" y2="39"/><line class="bl" x1="79" y1="45.7" x2="205" y2="43.3"/>
<text class="rg" x="204" y="101.5">r=0.40</text><text class="rb" x="204" y="118">r=0.04</text>
</g>

<g id="r5c3" transform="translate(898,734)">
<use href="#ax"/>
<text class="te" x="-4" y="8">5</text><text class="te" x="-4" y="128">0</text><text class="tm" x="3" y="143">0</text><text class="tm" x="205" y="143">5</text>
<text class="yx" transform="translate(-10,65.5) rotate(-90)">x10<tspan dy="-8" font-size="12.5">-3</tspan><tspan dy="8"> mm</tspan><tspan dy="-8" font-size="12.5">2</tspan><tspan dy="8">/s</tspan></text>
<g class="lp">
<use href="#s" x="21" y="31.7"/><use href="#s" x="21" y="35"/><use href="#s" x="21" y="38.3"/>
<use href="#s" x="46" y="23.3"/><use href="#s" x="46" y="40"/><use href="#s" x="46" y="45"/><use href="#s" x="46" y="50"/>
<use href="#s" x="61.5" y="31.7"/><use href="#s" x="61.5" y="36.7"/><use href="#s" x="61.5" y="41.7"/><use href="#s" x="61.5" y="46.7"/><use href="#s" x="61.5" y="51.7"/><use href="#s" x="61.5" y="65"/>
<use href="#s" x="123" y="40"/><use href="#s" x="123" y="45"/><use href="#s" x="123" y="50"/><use href="#s" x="123" y="53.3"/>
<use href="#s" x="185" y="28.3"/><use href="#s" x="185" y="33.3"/><use href="#s" x="185" y="38.3"/><use href="#s" x="185" y="43.3"/><use href="#s" x="185" y="48.3"/><use href="#s" x="185" y="53.3"/><use href="#s" x="185" y="58.3"/><use href="#s" x="185" y="61.7"/>
</g>
<g class="rp">
<use href="#d" x="21" y="50"/><use href="#d" x="46" y="35"/><use href="#d" x="46" y="55"/><use href="#d" x="61.5" y="52.7"/><use href="#d" x="123" y="34.3"/><use href="#d" x="185" y="24.3"/><use href="#d" x="185" y="55"/>
</g>
<line class="gl" x1="21.7" y1="42.3" x2="186.7" y2="45"/><line class="bl" x1="21.7" y1="45" x2="186.7" y2="47.3"/>
<text class="rg" x="203" y="101.5">r=-0.08</text><text class="rb" x="203" y="118">r=-0.10</text>
</g>

<!-- Row 6 -->
<g id="r6c1" transform="translate(333,901)">
<use href="#ax"/>
<text class="te" x="-4" y="8">4</text><text class="te" x="-4" y="128">0</text><text class="tm" x="3" y="143">0</text><text class="tm" x="205" y="143">50</text>
<text class="yx" transform="translate(-10,65.5) rotate(-90)">x10<tspan dy="-8" font-size="12.5">-3</tspan><tspan dy="8"> mm</tspan><tspan dy="-8" font-size="12.5">2</tspan><tspan dy="8">/s</tspan></text>
<g class="lp">
<use href="#s" x="1" y="49"/><use href="#s" x="7.1" y="59"/><use href="#s" x="14.2" y="54"/><use href="#s" x="18.5" y="62.3"/><use href="#s" x="20.6" y="73.2"/><use href="#s" x="24.2" y="35.8"/><use href="#s" x="30.2" y="40.7"/><use href="#s" x="32" y="54"/><use href="#s" x="39.1" y="51.7"/><use href="#s" x="44.5" y="51.7"/><use href="#s" x="49.1" y="44"/><use href="#s" x="51.6" y="42.4"/><use href="#s" x="52.7" y="41.7"/><use href="#s" x="61.2" y="68.2"/><use href="#s" x="65.8" y="58.3"/><use href="#s" x="71.2" y="54"/><use href="#s" x="81.9" y="52.3"/><use href="#s" x="81.9" y="60.6"/><use href="#s" x="90.7" y="58.9"/><use href="#s" x="102.5" y="42.4"/><use href="#s" x="122.8" y="50.7"/><use href="#s" x="163.7" y="45.7"/><use href="#s" x="204" y="59.9"/><use href="#s" x="21.4" y="57.3"/><use href="#s" x="46.3" y="49"/>
</g>
<g class="rp">
<use href="#d" x="1" y="53"/><use href="#d" x="4.3" y="45.7"/><use href="#d" x="7.1" y="56.6"/><use href="#d" x="14.2" y="50.7"/><use href="#d" x="17.1" y="67.2"/><use href="#d" x="18.5" y="58.3"/><use href="#d" x="19.6" y="59.9"/><use href="#d" x="21.4" y="52.3"/><use href="#d" x="24.2" y="45"/><use href="#d" x="24.9" y="53"/><use href="#d" x="28.5" y="66.2"/><use href="#d" x="30.2" y="53"/><use href="#d" x="33.1" y="34.1"/><use href="#d" x="37.4" y="54"/><use href="#d" x="40.9" y="54"/><use href="#d" x="45.2" y="45.7"/><use href="#d" x="49.1" y="36.4"/><use href="#d" x="49.1" y="62.9"/><use href="#d" x="50.9" y="49"/><use href="#d" x="52.7" y="53"/><use href="#d" x="61.2" y="58.3"/><use href="#d" x="61.6" y="74.5"/><use href="#d" x="65.8" y="62.9"/><use href="#d" x="71.2" y="56.6"/><use href="#d" x="81.9" y="39.7"/><use href="#d" x="81.9" y="53"/><use href="#d" x="81.9" y="62.9"/><use href="#d" x="90.7" y="62.9"/><use href="#d" x="102.5" y="59.6"/><use href="#d" x="102.5" y="61.6"/><use href="#d" x="122.8" y="47.4"/><use href="#d" x="122.8" y="62.9"/><use href="#d" x="163.7" y="47.4"/><use href="#d" x="163.7" y="55"/><use href="#d" x="204" y="59.9"/>
</g>
<line class="gl" x1="1" y1="53" x2="205" y2="50.7"/><line class="bl" x1="1" y1="51.7" x2="205" y2="58.9"/>
<text class="rg" x="205" y="101.5">r=0.05</text><text class="rb" x="205" y="118">r=-0.13</text>
</g>

<g id="r6c2" transform="translate(617,901)">
<use href="#ax"/>
<text class="te" x="-4" y="8">4</text><text class="te" x="-4" y="128">0</text><text class="tm" x="3" y="143">0</text><text class="tm" x="205" y="138">5</text>
<text class="yx" transform="translate(-10,65.5) rotate(-90)">x10<tspan dy="-8" font-size="12.5">-3</tspan><tspan dy="8"> mm</tspan><tspan dy="-8" font-size="12.5">2</tspan><tspan dy="8">/s</tspan></text>
<g class="lp">
<use href="#s" x="82" y="73.8"/><use href="#s" x="82" y="77.2"/><use href="#s" x="82" y="80.5"/><use href="#s" x="102.5" y="52.3"/>
<use href="#s" x="123" y="55.6"/><use href="#s" x="123" y="60.6"/><use href="#s" x="123" y="65.6"/><use href="#s" x="123" y="68.9"/>
<use href="#s" x="143.5" y="54"/><use href="#s" x="143.5" y="59"/><use href="#s" x="143.5" y="63.9"/><use href="#s" x="143.5" y="67.2"/>
<use href="#s" x="164" y="50.7"/><use href="#s" x="164" y="55.6"/><use href="#s" x="164" y="60.6"/><use href="#s" x="164" y="65.6"/><use href="#s" x="164" y="70.5"/>
<use href="#s" x="205" y="50.7"/><use href="#s" x="205" y="55.6"/><use href="#s" x="205" y="60.6"/><use href="#s" x="205" y="65.6"/>
</g>
<g class="rp">
<use href="#d" x="82" y="52.3"/><use href="#d" x="102.5" y="49.7"/><use href="#d" x="123" y="34.1"/><use href="#d" x="123" y="45"/><use href="#d" x="123" y="49.7"/><use href="#d" x="143.5" y="35.8"/><use href="#d" x="143.5" y="45"/><use href="#d" x="143.5" y="50.7"/><use href="#d" x="164" y="39.1"/><use href="#d" x="164" y="45.7"/><use href="#d" x="205" y="45"/>
</g>
<line class="gl" x1="81" y1="65.6" x2="205" y2="55.6"/><line class="bl" x1="80" y1="55" x2="205" y2="55"/>
<text class="rg" x="203" y="101.5">r=0.36</text><text class="rb" x="203" y="118">r=0.01</text>
</g>

<g id="r6c3" transform="translate(898,901)">
<use href="#ax"/>
<text class="te" x="-4" y="8">4</text><text class="te" x="-4" y="128">0</text><text class="tm" x="3" y="143">0</text><text class="tm" x="205" y="138">5</text>
<text class="yx" transform="translate(-10,65.5) rotate(-90)">x10<tspan dy="-8" font-size="12.5">-3</tspan><tspan dy="8"> mm</tspan><tspan dy="-8" font-size="12.5">2</tspan><tspan dy="8">/s</tspan></text>
<g class="lp">
<use href="#s" x="21" y="41"/><use href="#s" x="21" y="44"/><use href="#s" x="21" y="47"/>
<use href="#s" x="46" y="34"/><use href="#s" x="46" y="46"/><use href="#s" x="46" y="51"/>
<use href="#s" x="61.5" y="48"/><use href="#s" x="61.5" y="53"/><use href="#s" x="61.5" y="58"/><use href="#s" x="61.5" y="63"/><use href="#s" x="61.5" y="68"/>
<use href="#s" x="123" y="48"/><use href="#s" x="123" y="53"/><use href="#s" x="123" y="58"/><use href="#s" x="123" y="63"/>
<use href="#s" x="185" y="40"/><use href="#s" x="185" y="45"/><use href="#s" x="185" y="50"/><use href="#s" x="185" y="55"/><use href="#s" x="185" y="60"/><use href="#s" x="185" y="65"/>
</g>
<g class="rp">
<use href="#d" x="21" y="61"/><use href="#d" x="46" y="50"/><use href="#d" x="46" y="57"/><use href="#d" x="46" y="60"/><use href="#d" x="61.5" y="58"/><use href="#d" x="61.5" y="62"/><use href="#d" x="123" y="37"/><use href="#d" x="185" y="34"/><use href="#d" x="185" y="44"/><use href="#d" x="185" y="66"/><use href="#d" x="185" y="72"/>
</g>
<line class="gl" x1="21" y1="54" x2="186" y2="54"/><line class="bl" x1="21" y1="57" x2="186" y2="54.5"/>
<text class="rg" x="203" y="101.5">r=-0.02</text><text class="rb" x="203" y="118">r=0.04</text>
</g>

<g id="xlabels">
<text class="xl" x="441" y="1046">years</text>
<text class="xl" x="728" y="1051">migraines pain</text>
<text class="xl" x="728" y="1073">intensity (6 point scale)</text>
<text class="xl" x="1004" y="1051">migraines/month</text>
</g>

<g id="legend">
<rect x="335" y="1062" width="233" height="50" fill="#fff" stroke="#222" stroke-width="1.5"/>
<rect x="345" y="1071" width="14" height="14" fill="#aaaaaa"/>
<text class="lg" x="364" y="1085">left nerve</text>
<circle cx="461" cy="1078" r="7.5" fill="#111"/>
<text class="lg" x="473" y="1085">right nerve</text>
</g>
</svg>
